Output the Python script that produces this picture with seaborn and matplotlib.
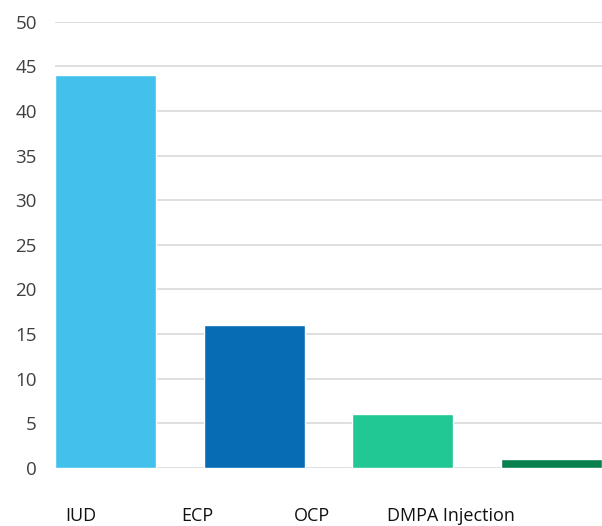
import matplotlib
matplotlib.use("Agg")
import matplotlib.pyplot as plt
import seaborn as sns
import pandas as pd

categories = ["IUD", "ECP", "OCP", "DMPA Injection"]
values = [44, 16, 6, 1]
colors = ["#43C1EC", "#086CB5", "#21C893", "#08804E"]
yticks = [0, 5, 10, 15, 20, 25, 30, 35, 40, 45, 50]
# label positions (data x) as shown in reference, offset from bars
label_x = [-0.165, 0.615, 1.388, 2.323]

sns.set_theme(style="white")
plt.rcParams["font.family"] = ["Open Sans", "DejaVu Sans"]

df = pd.DataFrame({"cat": categories, "val": values})

fig = plt.figure(figsize=(6.02, 5.26), dpi=100)
ax = fig.add_axes([55/602, (526-468)/526, 1 - 55/602, (468-21.7)/526])
sns.barplot(data=df, x="cat", y="val", hue="cat", palette=colors, legend=False,
            width=0.68, saturation=1, ax=ax, zorder=3)

ax.set_ylim(0, 50)
ax.set_xlim(-0.34, 3.34)
ax.set_yticks(yticks)
ax.set_xticks(label_x)
ax.set_xticklabels(categories)
ax.set_xlabel("")
ax.set_ylabel("")
ax.grid(axis="y", color="#D9D9D9", linewidth=1.2, zorder=0)
ax.set_axisbelow(True)
for s in ax.spines.values():
    s.set_visible(False)
ax.tick_params(axis="y", length=0, pad=13, labelsize=13.5, labelcolor="#404040")
ax.tick_params(axis="x", length=0, pad=28, labelsize=13, labelcolor="#111111")

fig.savefig("out.png", dpi=100)
